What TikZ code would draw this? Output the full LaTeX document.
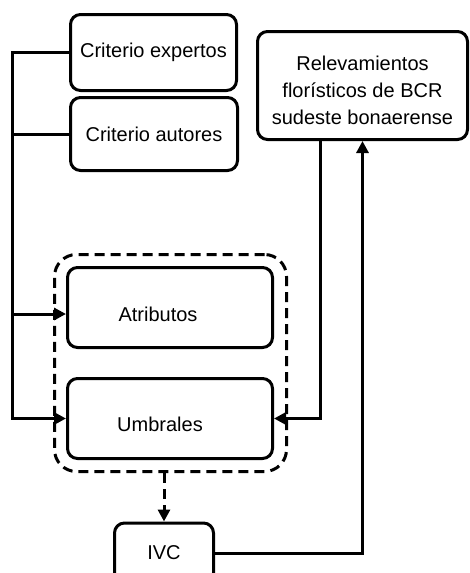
\documentclass[tikz,border=0pt]{standalone}
\usepackage{fontspec}
\setmainfont{Liberation Sans}
\usetikzlibrary{positioning}
\usetikzlibrary{arrows.meta}

\begin{document}
\begin{tikzpicture}[x=1pt,y=-1pt,line width=3pt,
        box/.style={draw,rounded corners=10,align=center,font=\fontsize{20}{27}\selectfont},
        txt/.style={font=\fontsize{20}{27}\selectfont,align=center},
        dashes/.style={dash pattern=on 10pt off 6pt},
        arr/.style={-{Triangle[length=12pt,width=12pt]}}]
        \useasboundingbox (0,0) rectangle (470,573);
        \clip (0,0) rectangle (470,573);
        \node[box,minimum width=166,minimum height=76] (exp) at (153.5,52.5) {Criterio expertos};
        \node[box,minimum width=167,minimum height=73] (aut) at (154,134) {Criterio autores};
        \node[box,minimum width=210,minimum height=108,
            label={[txt,yshift=-5]center:Relevamientos\\florísticos de BCR\\sudeste bonaerense}] (rel) at (362.5,85.5) {};
        \node[draw,dashes,rounded corners=22,minimum width=232,minimum height=217] (grp) at (170.5,363) {};
        \node[box,minimum width=205,minimum height=80,
            label={[txt,xshift=-12,yshift=-7]center:Atributos}] (att) at (170,307.5) {};
        \node[box,minimum width=205,minimum height=80,
            label={[txt,xshift=-10,yshift=-6]center:Umbrales}] (umb) at (170,418.5) {};
        \node[box,minimum width=99,minimum height=60] (ivc) at (164,553) {IVC};
        % criterios a atributos y umbrales
        \coordinate (bus) at (12,0);
        \coordinate (attin) at ([yshift=-6.5]att.west);
        \draw[arr] (exp.west) -| (bus |- umb.west) -- (umb.west);
        \draw (aut.west) -- (bus |- aut.west);
        \draw[arr] (bus |- attin) -- (attin);
        % relevamientos e IVC
        \draw[arr] ([xshift=-42]rel.south) |- (umb.east);
        \draw[arr,dashes] (grp.south -| ivc.north) -- (ivc.north);
        \draw[arr] (ivc.east) -| (rel.south);
    \end{tikzpicture}
\end{document}
